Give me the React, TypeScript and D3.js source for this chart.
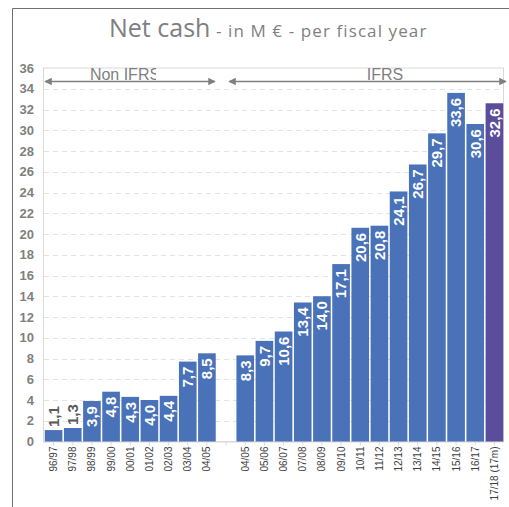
import { useEffect, useRef } from 'react';
import * as d3 from 'd3';

// fiscal years, the empty slot separates the Non IFRS and IFRS blocks
const nonIfrsYears = ['96/97', '97/98', '98/99', '99/00', '00/01', '01/02', '02/03', '03/04', '04/05'];
const nonIfrsValues = [1.1, 1.3, 3.9, 4.8, 4.3, 4.0, 4.4, 7.7, 8.5];
const ifrsYears = ['04/05', '05/06', '06/07', '07/08', '08/09', '09/10', '10/11', '11/12', '12/13', '13/14', '14/15', '15/16', '16/17', '17/18 (17m)'];
const ifrsValues = [8.3, 9.7, 10.6, 13.4, 14.0, 17.1, 20.6, 20.8, 24.1, 26.7, 29.7, 33.6, 30.6, 32.6];
const yTicks = d3.range(0, 37, 2);

type Bar = { key: string; label: string; value: number; last: boolean };

const bars: Bar[] = [
    ...nonIfrsYears.map((y, i) => ({ key: 'n' + i, label: y, value: nonIfrsValues[i], last: false })),
    ...ifrsYears.map((y, i) => ({ key: 'i' + i, label: y, value: ifrsValues[i], last: i === ifrsYears.length - 1 })),
];
const slots = [...nonIfrsYears.map((_, i) => 'n' + i), 'gap', ...ifrsYears.map((_, i) => 'i' + i)];

const App = () => {
    const svgRef = useRef<SVGSVGElement | null>(null);

    useEffect(() => {
        const width = 509;
        const height = 507;
        const font = '"Liberation Sans", Arial, sans-serif';
        const grey = '#7f7f7f';

        const svg = d3.select(svgRef.current)
            .attr('width', width)
            .attr('height', height);
        svg.selectAll('*').remove();

        // outer frame (only top and left are visible)
        svg.append('line').attr('x1', 12.5).attr('x2', 12.5).attr('y1', 8.5).attr('y2', height)
            .attr('stroke', '#6f6f6f');
        svg.append('line').attr('x1', 12.5).attr('x2', width).attr('y1', 8.5).attr('y2', 8.5)
            .attr('stroke', '#6f6f6f');

        // title
        const title = svg.append('text')
            .attr('x', 109)
            .attr('y', 36.5)
            .attr('text-anchor', 'start')
            .style('font-family', '"Open Sans", "Noto Sans", sans-serif')
            .style('fill', grey);
        title.append('tspan').style('font-size', '25px').text('Net cash');
        title.append('tspan')
            .style('font-size', '17px')
            .style('letter-spacing', '1.1px')
            .text(' - in M € - per fiscal year');

        const x = d3.scaleBand()
            .domain(slots)
            .range([44, 504])
            .paddingInner(0.08)
            .paddingOuter(0.04);

        const y = d3.scaleLinear()
            .domain([0, 36])
            .range([441.5, 68]);

        // plot frame
        svg.append('rect')
            .attr('x', 43.5).attr('y', y(36))
            .attr('width', 460).attr('height', y(0) - y(36))
            .attr('fill', 'none')
            .attr('stroke', '#d9d9d9');

        // grid
        svg.selectAll('.grid')
            .data(yTicks.filter(t => t > 0 && t < 36))
            .enter()
            .append('line')
            .attr('class', 'grid')
            .attr('x1', 44).attr('x2', 503)
            .attr('y1', d => Math.round(y(d)) + 0.5)
            .attr('y2', d => Math.round(y(d)) + 0.5)
            .attr('stroke', '#e3e3e3')
            .attr('stroke-dasharray', '5,4');

        // y labels
        svg.selectAll('.ylab')
            .data(yTicks)
            .enter()
            .append('text')
            .attr('class', 'ylab')
            .attr('x', 34)
            .attr('y', d => y(d))
            .attr('dy', '0.35em')
            .attr('text-anchor', 'end')
            .style('font-family', font)
            .style('font-size', '13px')
            .style('font-weight', 'bold')
            .style('fill', grey)
            .text(d => d);

        // x axis baseline and ticks
        svg.append('line')
            .attr('x1', 43).attr('x2', 504)
            .attr('y1', y(0) + 0.5).attr('y2', y(0) + 0.5)
            .attr('stroke', '#d9d9d9');
        svg.selectAll('.xtick')
            .data(slots)
            .enter()
            .append('line')
            .attr('class', 'xtick')
            .attr('x1', d => x(d)! + x.bandwidth() / 2)
            .attr('x2', d => x(d)! + x.bandwidth() / 2)
            .attr('y1', y(0)).attr('y2', y(0) + 4)
            .attr('stroke', '#d9d9d9');

        // bars
        svg.selectAll('.bar')
            .data(bars)
            .enter()
            .append('rect')
            .attr('class', 'bar')
            .attr('x', d => x(d.key)!)
            .attr('y', d => y(d.value))
            .attr('width', x.bandwidth())
            .attr('height', d => y(0) - y(d.value))
            .attr('fill', d => (d.last ? '#5b4c9c' : '#4a72b8'));

        // value labels
        const fmt = (v: number) => d3.format('.1f')(v).replace('.', ',');
        svg.selectAll('.val')
            .data(bars)
            .enter()
            .append('text')
            .attr('class', 'val')
            .attr('transform', d => {
                const cx = x(d.key)! + x.bandwidth() / 2;
                const ty = d.value < 2 ? y(d.value) - 3 : y(d.value) + 5;
                return `translate(${cx},${ty}) rotate(-90)`;
            })
            .attr('dy', '0.36em')
            .attr('text-anchor', d => (d.value < 2 ? 'start' : 'end'))
            .style('font-family', font)
            .style('font-size', '15px')
            .style('font-weight', 'bold')
            .style('fill', d => (d.value < 2 ? '#595959' : '#ffffff'))
            .text(d => fmt(d.value));

        // category labels
        svg.selectAll('.xlab')
            .data(bars)
            .enter()
            .append('text')
            .attr('class', 'xlab')
            .attr('transform', d => `translate(${x(d.key)! + x.bandwidth() / 2},${y(0) + 5}) rotate(-90)`)
            .attr('dy', '0.35em')
            .attr('text-anchor', 'end')
            .style('font-family', font)
            .style('font-size', '10px')
            .style('fill', '#404040')
            .text(d => d.label);

        // Non IFRS / IFRS brackets
        const defs = svg.append('defs');
        defs.append('marker')
            .attr('id', 'arr')
            .attr('viewBox', '0 0 10 10')
            .attr('refX', 9).attr('refY', 5)
            .attr('markerWidth', 5).attr('markerHeight', 5)
            .attr('orient', 'auto-start-reverse')
            .append('path')
            .attr('d', 'M0,0 L10,5 L0,10 z')
            .attr('fill', grey);
        defs.append('clipPath')
            .attr('id', 'nonClip')
            .append('rect')
            .attr('x', 44).attr('y', 60).attr('width', 112).attr('height', 30);

        const arrows = [
            { x1: 45, x2: 215, label: 'Non IFRS', cx: 125 },
            { x1: 229, x2: 506, label: 'IFRS', cx: 385 },
        ];
        arrows.forEach((a, i) => {
            svg.append('line')
                .attr('x1', a.x1).attr('x2', a.x2)
                .attr('y1', 81.5).attr('y2', 81.5)
                .attr('stroke', grey)
                .attr('stroke-width', 1.5)
                .attr('marker-start', 'url(#arr)')
                .attr('marker-end', 'url(#arr)');
            svg.append('text')
                .attr('x', a.cx)
                .attr('y', 80)
                .attr('text-anchor', 'middle')
                .attr('clip-path', i === 0 ? 'url(#nonClip)' : null)
                .style('font-family', font)
                .style('font-size', '16px')
                .style('fill', grey)
                .text(a.label);
        });
    }, []);

    return <svg ref={svgRef} style={{ position: 'absolute', left: 0, top: 0 }} />;
};

export default App;
